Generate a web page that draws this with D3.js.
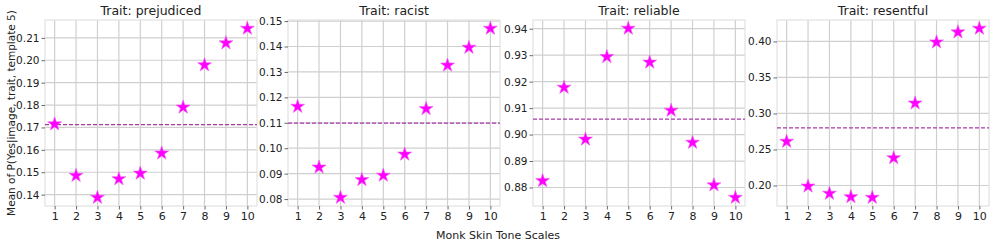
<!DOCTYPE html>
<html>
<head>
<meta charset="utf-8">
<script src="https://cdn.jsdelivr.net/npm/d3@7"></script>
<style>
  body { margin: 0; background: #fff; }
  svg text { font-family: "DejaVu Sans", sans-serif; fill: #222; }
</style>
</head>
<body>
<svg id="chart" width="996" height="244"></svg>
<script>
let skinTones = [1, 2, 3, 4, 5, 6, 7, 8, 9, 10];
let traits = ["prejudiced", "racist", "reliable", "resentful"];

let prejudiced = [0.1715, 0.1485, 0.1387, 0.1470, 0.1495, 0.1585, 0.1790, 0.1979, 0.2077, 0.2142];
let racist     = [0.1164, 0.0925, 0.0806, 0.0876, 0.0893, 0.0976, 0.1155, 0.1326, 0.1396, 0.1471];
let reliable   = [0.8825, 0.9178, 0.8982, 0.9294, 0.9401, 0.9273, 0.9091, 0.8970, 0.8809, 0.8762];
let resentful  = [0.2611, 0.1990, 0.1889, 0.1842, 0.1833, 0.2383, 0.3143, 0.3990, 0.4129, 0.4180];

let means = [0.1713, 0.1099, 0.9058, 0.2800];

let yTicks = [
    [0.14, 0.15, 0.16, 0.17, 0.18, 0.19, 0.20, 0.21],
    [0.08, 0.09, 0.10, 0.11, 0.12, 0.13, 0.14, 0.15],
    [0.88, 0.89, 0.90, 0.91, 0.92, 0.93, 0.94],
    [0.20, 0.25, 0.30, 0.35, 0.40]
];

let series = [prejudiced, racist, reliable, resentful];

let svg = d3.select("#chart");
let panelLeft = [45, 288, 533, 777];
let panelWidth = 212;
let plotTop = 20, plotBottom = 206;

let gridColor = "#cfcfcf";
let spineColor = "#e2e2e2";

traits.forEach(function(trait, i) {
    let values = series[i];
    let x0 = panelLeft[i];
    let g = svg.append("g").attr("transform", "translate(" + x0 + ",0)");

    let scaleX = d3.scaleLinear().domain([0.55, 10.45]).range([0, panelWidth]);
    let lo = d3.min(values), hi = d3.max(values);
    let pad = (hi - lo) * 0.05;
    let scaleY = d3.scaleLinear().domain([lo - pad, hi + pad]).range([plotBottom, plotTop]);

    // grid
    g.selectAll(".gx").data(skinTones).enter().append("line")
        .attr("x1", d => scaleX(d)).attr("x2", d => scaleX(d))
        .attr("y1", plotTop).attr("y2", plotBottom)
        .attr("stroke", gridColor).attr("stroke-width", 1.2);
    g.selectAll(".gy").data(yTicks[i]).enter().append("line")
        .attr("x1", 0).attr("x2", panelWidth)
        .attr("y1", d => scaleY(d)).attr("y2", d => scaleY(d))
        .attr("stroke", gridColor).attr("stroke-width", 1.2);

    // frame
    g.append("rect")
        .attr("x", 0).attr("y", plotTop)
        .attr("width", panelWidth).attr("height", plotBottom - plotTop)
        .attr("fill", "none").attr("stroke", spineColor).attr("stroke-width", 1.2);

    // axes
    let xAxis = d3.axisBottom(scaleX).tickValues(skinTones).tickSize(3.5).tickPadding(3).tickFormat(d3.format("d"));
    let yAxis = d3.axisLeft(scaleY).tickValues(yTicks[i]).tickSize(3.5).tickPadding(2).tickFormat(d3.format(".2f"));

    let gx = g.append("g").attr("transform", "translate(0," + plotBottom + ")").call(xAxis);
    let gy = g.append("g").call(yAxis);
    [gx, gy].forEach(function(a) {
        a.select(".domain").remove();
        a.selectAll(".tick line").attr("stroke", "#444").attr("stroke-width", 0.8);
        a.selectAll(".tick text").style("font-size", "10.5px").attr("fill", "#222")
            .style("font-family", "DejaVu Sans, sans-serif");
    });
    gx.selectAll(".tick text").style("font-size", "11px");

    // mean line
    g.append("line")
        .attr("x1", 0).attr("x2", panelWidth)
        .attr("y1", scaleY(means[i])).attr("y2", scaleY(means[i]))
        .attr("stroke", "#a83aa8").attr("stroke-width", 1.3)
        .attr("stroke-dasharray", "4,2");

    // stars
    g.selectAll(".star").data(values).enter().append("path")
        .attr("d", d3.symbol().type(d3.symbolStar).size(60))
        .attr("transform", (d, k) => "translate(" + scaleX(skinTones[k]) + "," + scaleY(d) + ")")
        .attr("fill", "#ff00ff")
        .attr("stroke", "#f25cf2").attr("stroke-width", 0.6);

    // title
    g.append("text")
        .attr("x", panelWidth / 2).attr("y", 15)
        .attr("text-anchor", "middle")
        .style("font-size", "12.5px")
        .text("Trait: " + trait);
});

svg.append("text")
    .attr("transform", "translate(15,113) rotate(-90)")
    .attr("text-anchor", "middle")
    .style("font-size", "10.5px")
    .text("Mean of P(Yes|image, trait, template 5)");

svg.append("text")
    .attr("x", 498).attr("y", 239)
    .attr("text-anchor", "middle")
    .style("font-size", "11px")
    .text("Monk Skin Tone Scales");
</script>
</body>
</html>
